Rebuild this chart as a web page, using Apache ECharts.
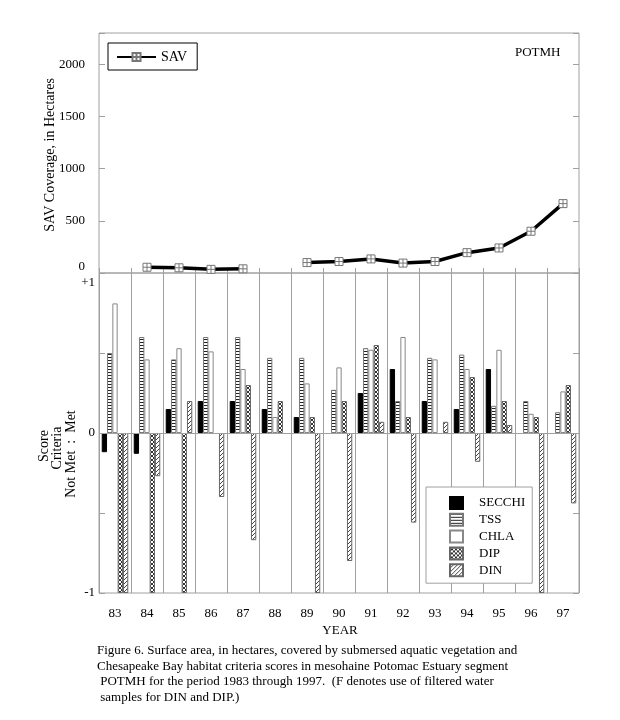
<!DOCTYPE html>
<html>
<head>
<meta charset="utf-8">
<script src="https://cdn.jsdelivr.net/npm/echarts@6/dist/echarts.min.js"></script>
<style>
html,body{margin:0;padding:0;background:#fff;}
#c{width:620px;height:720px;}
</style>
</head>
<body>
<div id="c"></div>
<script>
// ---- data ----
const years = ['83','84','85','86','87','88','89','90','91','92','93','94','95','96','97'];
const sav = [null, 55, 50, 35, 40, null, 100, 110, 135, 95, 110, 195, 240, 400, 665];
const secchi = [-0.12, -0.13, 0.15, 0.20, 0.20, 0.15, 0.10, null, 0.25, 0.40, 0.20, 0.15, 0.40, null, null];
const tss    = [0.50, 0.60, 0.46, 0.60, 0.60, 0.47, 0.47, 0.27, 0.53, 0.20, 0.47, 0.49, 0.17, 0.20, 0.13];
const chla   = [0.81, 0.46, 0.53, 0.51, 0.40, 0.10, 0.31, 0.41, 0.52, 0.60, 0.46, 0.40, 0.52, 0.12, 0.26];
const dip    = [-1, -1, -1, null, 0.30, 0.20, 0.10, 0.20, 0.55, 0.10, null, 0.35, 0.20, 0.10, 0.30];
const din    = [-1, -0.27, 0.20, -0.40, -0.67, null, -1, -0.80, 0.07, -0.56, 0.07, -0.18, 0.05, -1, -0.44];
const fYears = ['91','92','93','94','95','96','97'];
const savTickLabels = [0, 500, 1000, 1500, 2000];
const scoreTickLabels = {'1': '+1', '0': '0', '-1': '-1'};
const captionLines = [
  'Figure 6. Surface area, in hectares, covered by submersed aquatic vegetation and',
  'Chesapeake Bay habitat criteria scores in mesohaine Potomac Estuary segment',
  ' POTMH for the period 1983 through 1997.  (F denotes use of filtered water',
  ' samples for DIN and DIP.)'
];

const FONT = '"Liberation Serif", "Times New Roman", serif';
const GRAY = '#a0a0a0';

function pat(w, h, draw) {
  const c = document.createElement('canvas');
  c.width = w; c.height = h;
  const g = c.getContext('2d');
  g.fillStyle = '#fff'; g.fillRect(0, 0, w, h);
  draw(g);
  return { image: c, repeat: 'repeat' };
}
const tssPat = pat(4, 3, g => { g.fillStyle = '#222'; g.fillRect(0, 0, 4, 1); });
const dipPat = pat(4, 4, g => {
  g.strokeStyle = '#333'; g.lineWidth = 1; g.beginPath();
  g.moveTo(0, 0); g.lineTo(4, 4); g.moveTo(4, 0); g.lineTo(0, 4); g.stroke();
});
const dinPat = pat(4, 4, g => {
  g.strokeStyle = '#444'; g.lineWidth = 1; g.beginPath();
  g.moveTo(0, 4); g.lineTo(4, 0); g.moveTo(-1, 1); g.lineTo(1, -1); g.moveTo(3, 5); g.lineTo(5, 3); g.stroke();
});

const chart = echarts.init(document.getElementById('c'), null, { renderer: 'canvas' });

const barBase = { type: 'bar', xAxisIndex: 1, yAxisIndex: 2, barGap: '0%', barCategoryGap: '17%' };

const option = {
  animation: false,
  backgroundColor: '#fff',
  textStyle: { fontFamily: FONT, color: '#000' },
  grid: [
    { left: 99, top: 33, width: 480, height: 240, show: true, borderColor: GRAY, borderWidth: 1 },
    { left: 99, top: 273, width: 480, height: 320, show: true, borderColor: GRAY, borderWidth: 1 }
  ],
  xAxis: [
    { type: 'category', gridIndex: 0, data: years, boundaryGap: true,
      axisLine: { show: false },
      axisTick: { show: true, inside: true, length: 5, interval: 0, lineStyle: { color: GRAY } },
      axisLabel: { show: false }, splitLine: { show: false } },
    { type: 'category', gridIndex: 1, data: years, boundaryGap: true,
      axisLine: { show: false },
      axisTick: { show: false },
      axisLabel: { show: true, interval: 0, margin: 14, fontSize: 13, fontFamily: FONT, color: '#000' },
      splitLine: { show: true, interval: 0, lineStyle: { color: GRAY, width: 1 } } }
  ],
  yAxis: [
    { type: 'value', gridIndex: 0, min: 0, max: 2300, interval: 500,
      axisLine: { show: false },
      axisTick: { show: true, inside: true, length: 6, lineStyle: { color: GRAY } },
      splitLine: { show: false },
      axisLabel: { margin: 14, fontSize: 13, fontFamily: FONT, color: '#000',
        formatter: v => v === 0 ? '{up|0}' : (savTickLabels.indexOf(v) >= 0 ? String(v) : ''),
        rich: { up: { fontSize: 13, fontFamily: FONT, color: '#000', padding: [0, 0, 12, 0] } } } },
    { type: 'value', gridIndex: 0, position: 'right', min: 0, max: 2300, interval: 500,
      axisLine: { show: false },
      axisTick: { show: true, inside: true, length: 6, lineStyle: { color: GRAY } },
      splitLine: { show: false }, axisLabel: { show: false } },
    { type: 'value', gridIndex: 1, min: -1, max: 1, interval: 0.5,
      axisLine: { show: false },
      axisTick: { show: true, inside: true, length: 6, lineStyle: { color: GRAY } },
      splitLine: { show: false },
      axisLabel: { margin: 4, fontSize: 13, fontFamily: FONT, color: '#000',
        formatter: v => {
          const t = scoreTickLabels[String(v)];
          if (t === undefined) return '';
          return v === 1 ? '{dn|' + t + '}' : t;
        },
        rich: { dn: { fontSize: 13, fontFamily: FONT, color: '#000', padding: [20, 0, 0, 0] } } } },
    { type: 'value', gridIndex: 1, position: 'right', min: -1, max: 1, interval: 0.5,
      axisLine: { show: false },
      axisTick: { show: true, inside: true, length: 6, lineStyle: { color: GRAY } },
      splitLine: { show: false }, axisLabel: { show: false } }
  ],
  legend: [
    { data: ['SAV'], left: 108, top: 43, orient: 'horizontal',
      padding: [7, 10, 6, 8], borderColor: '#000', borderWidth: 1, borderRadius: 0,
      backgroundColor: '#fff', itemWidth: 39, itemHeight: 10,
      textStyle: { fontSize: 14, fontFamily: FONT, color: '#000' } },
    { data: ['SECCHI', 'TSS', 'CHLA', 'DIP', 'DIN'], left: 426, top: 487, orient: 'vertical',
      icon: 'rect',
      padding: [9, 7, 6, 23], borderColor: GRAY, borderWidth: 1, borderRadius: 0,
      backgroundColor: '#fff', itemWidth: 13, itemHeight: 12, itemGap: 2.8,
      textStyle: { fontSize: 13, fontFamily: FONT, color: '#000', lineHeight: 12, padding: [0, 0, 0, 11] } }
  ],
  series: [
    { name: 'SAV', type: 'line', xAxisIndex: 0, yAxisIndex: 0, data: sav, connectNulls: false,
      symbol: 'path://M0 0H10V10H0Z M5 0V10 M0 5H10', symbolSize: 8, showAllSymbol: true,
      lineStyle: { color: '#000', width: 3.5 },
      itemStyle: { color: '#fff', borderColor: '#777', borderWidth: 1 }, z: 5 },
    Object.assign({}, barBase, { name: 'SECCHI', data: secchi,
      itemStyle: { color: '#000', borderColor: '#000', borderWidth: 1 },
      markLine: { silent: true, symbol: 'none', label: { show: false },
        lineStyle: { color: GRAY, type: 'solid', width: 1 }, data: [{ yAxis: 0 }] } }),
    Object.assign({}, barBase, { name: 'TSS', data: tss,
      itemStyle: { color: tssPat, borderColor: '#777', borderWidth: 1 } }),
    Object.assign({}, barBase, { name: 'CHLA', data: chla,
      itemStyle: { color: '#fff', borderColor: '#888', borderWidth: 1 } }),
    Object.assign({}, barBase, { name: 'DIP', data: dip,
      itemStyle: { color: dipPat, borderColor: '#666', borderWidth: 1 } }),
    Object.assign({}, barBase, { name: 'DIN', data: din,
      itemStyle: { color: dinPat, borderColor: '#666', borderWidth: 1 } }),
    { name: 'F', type: 'scatter', xAxisIndex: 1, yAxisIndex: 2, symbol: 'none', silent: true,
      data: fYears.map(y => [y, 1]),
      label: { show: true, formatter: 'F', position: 'bottom', distance: 3,
        fontSize: 13, fontFamily: FONT, color: '#000' } }
  ],
  graphic: [
    { type: 'text', left: 515, top: 46, style: { text: 'POTMH', font: '13px ' + FONT, fill: '#000' } },
    { type: 'text', x: 50, y: 155, rotation: Math.PI / 2,
      style: { text: 'SAV Coverage, in Hectares', font: '14px ' + FONT, fill: '#000', align: 'center', verticalAlign: 'middle' } },
    { type: 'text', x: 44, y: 446, rotation: Math.PI / 2,
      style: { text: 'Score', font: '14px ' + FONT, fill: '#000', align: 'center', verticalAlign: 'middle' } },
    { type: 'text', x: 57, y: 448, rotation: Math.PI / 2,
      style: { text: 'Criteria', font: '14px ' + FONT, fill: '#000', align: 'center', verticalAlign: 'middle' } },
    { type: 'text', x: 71, y: 454, rotation: Math.PI / 2,
      style: { text: 'Not Met  :  Met', font: '14px ' + FONT, fill: '#000', align: 'center', verticalAlign: 'middle' } },
    { type: 'text', x: 340, y: 631,
      style: { text: 'YEAR', font: '13px ' + FONT, fill: '#000', align: 'center', verticalAlign: 'middle' } }
  ].concat(captionLines.map((t, i) => ({
    type: 'text', x: 97, y: 651 + i * 15.5,
    style: { text: t, font: '13px ' + FONT, fill: '#000', align: 'left', verticalAlign: 'middle' }
  })))
};
chart.setOption(option);
</script>
</body>
</html>
